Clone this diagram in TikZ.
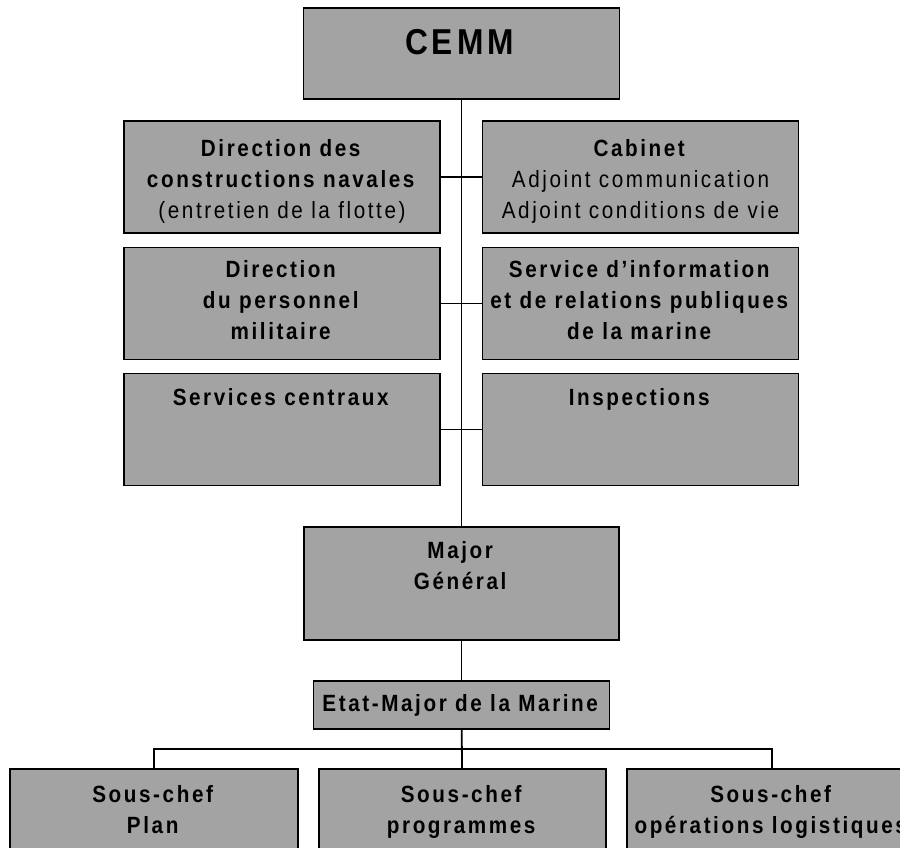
\documentclass[tikz,border=0pt]{standalone}
\usepackage{fontspec}
\setmainfont{Liberation Sans}[LetterSpace=11,FakeStretch=0.88]
\usetikzlibrary{positioning}

\begin{document}
\begin{tikzpicture}[x=1pt,y=-1pt]

      \useasboundingbox (0,0) rectangle (900,847);
      \clip (0,0) rectangle (900,847);

      \begin{scope}[every node/.style={rectangle,draw,line width=1.6pt,fill=black!36,
          minimum width=316pt,minimum height=112pt,inner sep=0pt}]
        \node (cemm)  at (461.5,53.5) [minimum height=91pt] {};
        \node (dcn)   at (282,177)   {};
        \node (cab)   at (640.5,177) {};
        \node (dpm)   at (282,303.5) {};
        \node (sirpa) at (640.5,303.5) {};
        \node (sc)    at (282,429.5) {};
        \node (insp)  at (640.5,429.5) {};
        \node (mg)    at (461.5,583.5) [minimum width=315pt,minimum height=113pt] {};
        \node (emm)   at (461.5,705) [minimum width=296pt,minimum height=48pt] {};
        \node (plan)  at (154,824)   [minimum width=288pt,minimum height=110pt] {};
        \node (prog)  at (462.5,824) [minimum width=287pt,minimum height=110pt] {};
        \node (logi)  at (772,824)   [minimum width=290pt,minimum height=110pt] {};
      \end{scope}

      \coordinate (bus) at (461.5,749);

      \begin{scope}[every edge/.style={draw,line width=1.8pt}]
        \path (cemm)  edge (mg);
        \path (dcn)   edge (cab);
        \path (dpm)   edge (sirpa);
        \path (sc)    edge (insp);
        \path (mg)    edge (emm);
        \path (emm)   edge (prog);
        \path (plan.north) edge[to path={|- (\tikztotarget)}] (bus);
        \path (logi.north) edge[to path={|- (\tikztotarget)}] (bus);
      \end{scope}

      \begin{scope}[every node/.style={align=center,inner sep=0pt,
          font=\fontsize{23.5}{31}\selectfont}]
        \node (cemm-t)  [below=22pt of cemm.north,font=\fontsize{36}{40}\selectfont] {\textbf{CEMM}};
        \node (dcn-t)   [below=19pt of dcn.north] {\textbf{Direction des}\\\textbf{constructions navales}\\(entretien de la flotte)};
        \node (cab-t)   [below=19pt of cab.north] {\textbf{Cabinet}\\Adjoint communication\\Adjoint conditions de vie};
        \node (dpm-t)   [below=14pt of dpm.north] {\textbf{Direction}\\\textbf{du personnel}\\\textbf{militaire}};
        \node (sirpa-t) [below=14pt of sirpa.north] {\textbf{Service d'information}\\\textbf{et de relations publiques}\\\textbf{de la marine}};
        \node (sc-t)    [below=16pt of sc.north] {\textbf{Services centraux}};
        \node (insp-t)  [below=16pt of insp.north] {\textbf{Inspections}};
        \node (mg-t)    [below=15pt of mg.north] {\textbf{Major}\\\textbf{Général}};
        \node (emm-t)   at (emm) {\textbf{Etat-Major de la Marine}};
        \node (plan-t)  [below=17pt of plan.north] {\textbf{Sous-chef}\\\textbf{Plan}};
        \node (prog-t)  [below=17pt of prog.north] {\textbf{Sous-chef}\\\textbf{programmes}};
        \node (logi-t)  [below=17pt of logi.north] {\textbf{Sous-chef}\\\textbf{opérations logistiques}};
      \end{scope}

    \end{tikzpicture}
\end{document}
